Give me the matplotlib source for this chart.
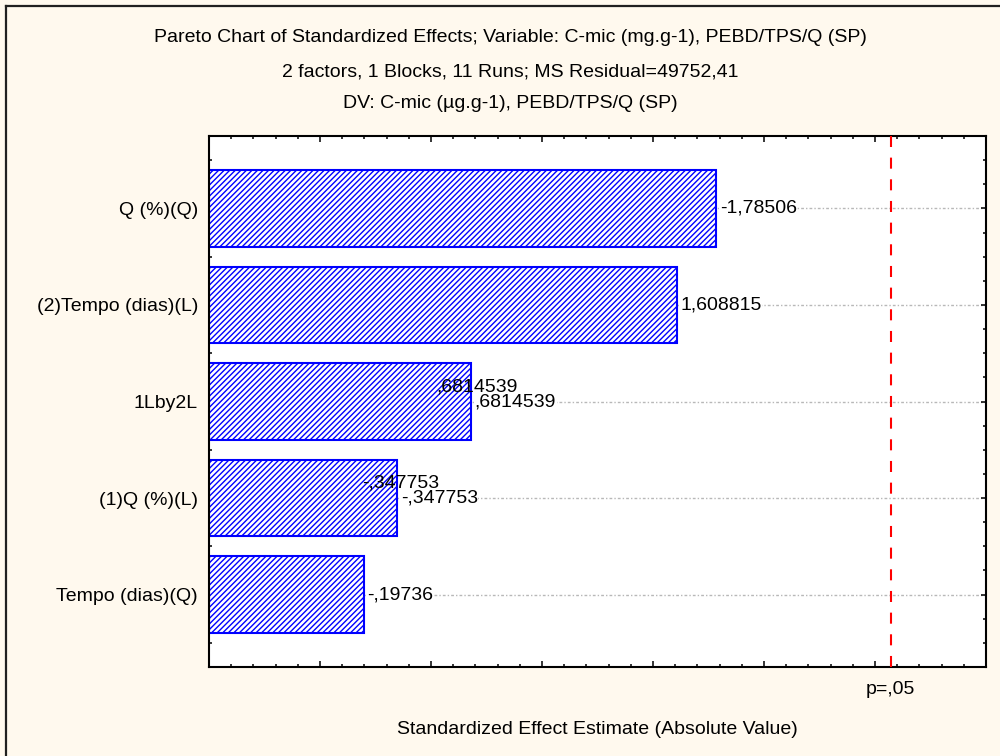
import numpy as np
import matplotlib.pyplot as plt
from matplotlib.lines import Line2D
from matplotlib.ticker import MultipleLocator
import matplotlib.transforms as mtransforms

plt.rcParams['font.family'] = ['Liberation Sans', 'DejaVu Sans']

# Effects and standardized estimates (t values)
effects = ["Q (%)(Q)", "(2)Tempo (dias)(L)", "1Lby2L", "(1)Q (%)(L)", "Tempo (dias)(Q)"]
t_values = [-1.78506, 1.608815, 0.6814539, -0.347753, -0.19736]
value_labels = ["-1,78506", "1,608815", ",6814539", "-,347753", "-,19736"]
# Statistica draws some labels twice
doubled = [False, False, True, True, False]
p_crit = 2.570582  # t(0.025, df=5)

title_lines = [
    "Pareto Chart of Standardized Effects; Variable: C-mic (mg.g-1), PEBD/TPS/Q (SP)",
    "2 factors, 1 Blocks, 11 Runs; MS Residual=49752,41",
    "DV: C-mic (\u00b5g.g-1), PEBD/TPS/Q (SP)",
]

BG = "#FFF9EE"
BLUE = "#0000FF"
FS = 14

x_min, x_max = -0.5, 3.0

fig = plt.figure(figsize=(10, 7.56), dpi=100, facecolor=BG)
ax = fig.add_axes([0.209, 0.1177, 0.777, 0.7024])
ax.set_facecolor("white")

ypos = np.arange(len(effects))
abs_t = np.abs(t_values)

plt.rcParams['hatch.linewidth'] = 1.0
ax.barh(ypos, abs_t - x_min, left=x_min, height=0.79, facecolor="white",
        edgecolor=BLUE, hatch="//////", linewidth=1.5, zorder=2)

ax.set_xlim(x_min, x_max)
ax.set_ylim(len(effects) - 0.25, -0.75)

# dotted gridlines at each effect
ax.set_axisbelow(True)
ax.yaxis.grid(True, which="major", color="#b8b8b8", linestyle=(0, (2, 1.5, 1, 1.5)), linewidth=1.0)

# value labels
for i in range(len(effects)):
    if doubled[i]:
        ax.annotate(value_labels[i], (abs_t[i], ypos[i]), xytext=(-25, 10.5),
                    textcoords="offset points", ha="left", va="center",
                    fontsize=FS, zorder=4)
    ax.annotate(value_labels[i], (abs_t[i], ypos[i]), xytext=(2.5, 0),
                textcoords="offset points", ha="left", va="center", fontsize=FS,
                bbox=dict(facecolor="white", edgecolor="none", pad=0.3), zorder=5)

# critical value line
ax.axvline(p_crit, color="red", linestyle=(0, (5.3, 5.1)), linewidth=1.5, zorder=3)
trans = mtransforms.blended_transform_factory(ax.transData, ax.transAxes)
ax.text(p_crit, -0.043, "p=,05", transform=trans, ha="center", va="center", fontsize=FS)

# ticks
ax.set_yticks(ypos)
ax.set_yticklabels(effects, fontsize=FS)
ax.yaxis.set_minor_locator(MultipleLocator(0.25))
ax.xaxis.set_major_locator(MultipleLocator(0.5))
ax.xaxis.set_minor_locator(MultipleLocator(0.1))
ax.tick_params(axis="both", which="both", direction="in", top=True, right=True,
               labelbottom=False, width=1.1)
ax.tick_params(axis="x", which="major", length=4.5)
ax.tick_params(axis="x", which="minor", length=2.5)
ax.tick_params(axis="y", which="major", length=3.5, pad=8)
ax.tick_params(axis="y", which="minor", length=2.5)
for s in ax.spines.values():
    s.set_linewidth(1.5)

# titles
fig.text(0.510, 1 - 38 / 756, title_lines[0], ha="center", va="center", fontsize=FS)
fig.text(0.510, 1 - 72 / 756, title_lines[1], ha="center", va="center", fontsize=FS)
fig.text(0.510, 1 - 104 / 756, title_lines[2], ha="center", va="center", fontsize=FS)
fig.text(0.5975, 1 - 730 / 756, "Standardized Effect Estimate (Absolute Value)",
         ha="center", va="center", fontsize=FS)

# window border
fig.add_artist(Line2D([0.006, 1.0], [1 - 6 / 756, 1 - 6 / 756], color="#202020", linewidth=1.6))
fig.add_artist(Line2D([0.006, 0.006], [0.0, 1 - 6 / 756], color="#202020", linewidth=1.6))

fig.savefig("out.png", dpi=100, facecolor=BG)
